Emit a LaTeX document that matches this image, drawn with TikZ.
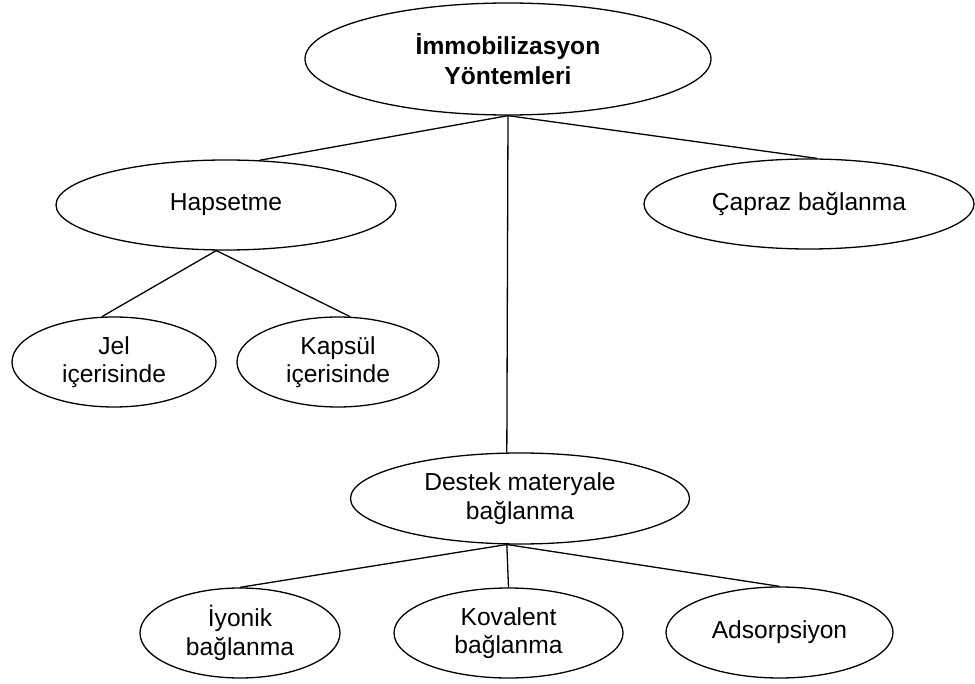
\documentclass[tikz,border=0pt]{standalone}
\usepackage{fontspec}
\setmainfont{Liberation Sans}
\usetikzlibrary{shapes.geometric}
\begin{document}
\begin{tikzpicture}[x=1pt,y=-1pt,
  oval/.style={draw=black,line width=1.3pt,ellipse,inner sep=0pt,align=center,
    font=\fontsize{24.6}{28.3}\selectfont},
  link/.style={draw=black,line width=1.3pt}]
\useasboundingbox (0,0) rectangle (975,684);
\node[oval,minimum width=406,minimum height=112,font=\fontsize{24.6}{30}\selectfont\bfseries] (top) at (508,59) {İmmobilizasyon\\Yöntemleri};
\node[oval,minimum width=340,minimum height=90] (hap) at (226,205) {Hapsetme};
\node[oval,minimum width=330,minimum height=90] (cap) at (809,204) {Çapraz bağlanma};
\node[oval,minimum width=204,minimum height=90] (jel) at (114,362) {Jel\\içerisinde};
\node[oval,minimum width=202,minimum height=90] (kap) at (338,362) {Kapsül\\içerisinde};
\node[oval,minimum width=339,minimum height=91] (des) at (520,498.5) {Destek materyale\\bağlanma};
\node[oval,minimum width=200,minimum height=90] (iyo) at (240,633) {İyonik\\bağlanma};
\node[oval,minimum width=229,minimum height=90] (kov) at (508.5,633) {Kovalent\\bağlanma};
\node[oval,minimum width=227,minimum height=91] (ads) at (779.5,632.5) {Adsorpsiyon};
\draw[link] (top.south) -- (hap.53);
\draw[link] (top.south) -- (cap.80);
\draw[link] (top.south) -- (des.106);
\draw[link] (hap.-102) -- (jel.105);
\draw[link] (hap.-102) -- (kap.75);
\draw[link] (des.-106) -- (iyo.north);
\draw[link] (des.-106) -- (kov.north);
\draw[link] (des.-106) -- (ads.north);
\end{tikzpicture}
\end{document}
